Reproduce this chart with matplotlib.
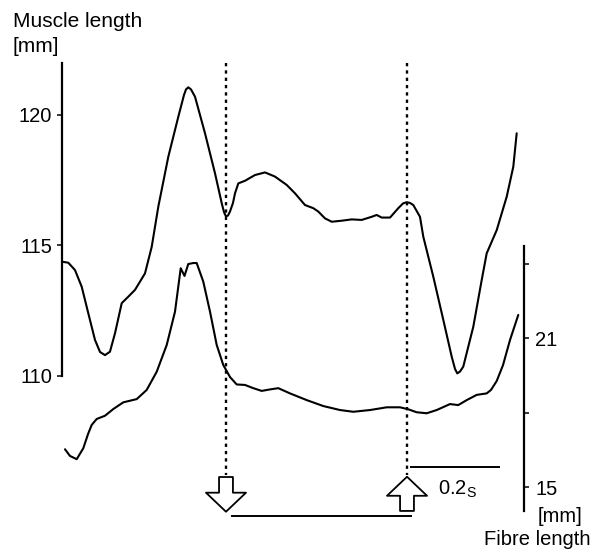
import matplotlib.pyplot as plt

plt.rcParams['font.family'] = ['Liberation Sans', 'DejaVu Sans']

# upper trace: muscle length [mm] vs time [s]
muscle_t = [0.000, 0.0143, 0.0295, 0.0448, 0.0598, 0.075, 0.0864, 0.0977, 0.109, 0.1205,
            0.1357, 0.1507, 0.1659, 0.1886, 0.2039, 0.2189, 0.2416, 0.2643, 0.2773, 0.2818,
            0.2870, 0.2932, 0.3023, 0.3250, 0.3477, 0.3630, 0.3682, 0.3727, 0.3773, 0.3818,
            0.3886, 0.3932, 0.4007, 0.4159, 0.4386, 0.4614, 0.4841, 0.5107, 0.5295, 0.5523,
            0.5711, 0.5825, 0.5977, 0.6130, 0.6357, 0.6584, 0.6811, 0.7039, 0.7152, 0.7266,
            0.7455, 0.7643, 0.7750, 0.7834, 0.7909, 0.7984, 0.8136, 0.8211, 0.8439, 0.8666,
            0.8857, 0.8932, 0.8984, 0.9045, 0.9120, 0.9348, 0.9539, 0.9652, 0.9880, 1.0107,
            1.0257, 1.0334]
muscle_len = [114.38, 114.34, 114.06, 113.42, 112.40, 111.38, 110.92, 110.80, 110.93, 111.64,
              112.79, 113.04, 113.30, 113.93, 114.95, 116.49, 118.40, 119.93, 120.77, 120.98,
              121.06, 120.98, 120.70, 119.30, 117.77, 116.62, 116.28, 116.11, 116.15, 116.30,
              116.63, 117.00, 117.38, 117.48, 117.70, 117.80, 117.64, 117.32, 117.00, 116.55,
              116.43, 116.30, 116.04, 115.91, 115.95, 116.00, 115.98, 116.10, 116.17, 116.07,
              116.07, 116.43, 116.61, 116.66, 116.63, 116.55, 116.10, 115.34, 113.80, 112.15,
              110.74, 110.27, 110.10, 110.17, 110.36, 111.89, 113.68, 114.70, 115.59, 116.87,
              118.02, 119.30]

# lower trace: fibre length [mm] vs time [s]
fibre_t = [0.0068, 0.0182, 0.0334, 0.0484, 0.0591, 0.0675, 0.0789, 0.0977, 0.1166, 0.1393,
           0.1698, 0.1925, 0.2152, 0.2380, 0.2568, 0.2698, 0.2784, 0.2870, 0.2984, 0.3061,
           0.3211, 0.3364, 0.3516, 0.3666, 0.3818, 0.3970, 0.4159, 0.4348, 0.4539, 0.4727,
           0.4916, 0.5182, 0.5561, 0.5939, 0.6318, 0.6620, 0.7000, 0.7380, 0.7682, 0.7870,
           0.8061, 0.8289, 0.8516, 0.8818, 0.9007, 0.9198, 0.9425, 0.9652, 0.9750, 0.9880,
           1.0023, 1.0182, 1.0370]
fibre_len = [16.52, 16.25, 16.12, 16.56, 17.13, 17.50, 17.74, 17.87, 18.14, 18.41,
             18.54, 18.91, 19.64, 20.72, 22.06, 23.81, 23.50, 23.98, 24.02, 24.02,
             23.27, 22.06, 20.72, 19.91, 19.43, 19.13, 19.11, 18.98, 18.87, 18.93,
             18.98, 18.77, 18.50, 18.26, 18.10, 18.03, 18.10, 18.21, 18.21, 18.13,
             18.01, 17.97, 18.10, 18.34, 18.30, 18.50, 18.71, 18.77, 18.91, 19.27,
             19.91, 20.92, 21.93]

muscle_ticks = [110, 115, 120]
fibre_ticks = [15, 18, 21, 24]
fibre_ticklabels = ['15', '', '21', '']
event_times = [0.3727, 0.7841]  # dotted markers
scale_bar = 0.2  # s

fig = plt.figure(figsize=(5.92, 5.54), dpi=100)
ax = fig.add_axes([62 / 592, 0, 462 / 592, 1])
ax.set_xlim(0, 1.05)
ax.set_ylim(103.18, 124.406)
ax2 = ax.twinx()
ax2.set_ylim(12.302, 34.613)

ax.plot(muscle_t, muscle_len, color='black', lw=1.5, clip_on=False,
        solid_joinstyle='round', solid_capstyle='round')
ax2.plot(fibre_t, fibre_len, color='black', lw=1.5, clip_on=False,
         solid_joinstyle='round', solid_capstyle='round')

for a in (ax, ax2):
    for s in ('top', 'bottom'):
        a.spines[s].set_visible(False)
    a.set_xticks([])
ax.spines['right'].set_visible(False)
ax2.spines['left'].set_visible(False)

ax.spines['left'].set_bounds(110, 122)
ax.spines['left'].set_linewidth(1.6)
ax.set_yticks(muscle_ticks)
ax.tick_params(axis='y', direction='out', length=3.6, width=1.1, pad=3.5, labelsize=14.5)

ax2.spines['right'].set_bounds(14.03, 24.71)
ax2.spines['right'].set_linewidth(1.6)
ax2.set_yticks(fibre_ticks)
ax2.set_yticklabels(fibre_ticklabels)
ax2.tick_params(axis='y', direction='out', length=3.6, width=1.1, pad=4.5, labelsize=14.5)

# dotted event lines
for t in event_times:
    ax.plot([t, t], [122.0, 106.2], color='black', lw=1.7,
            linestyle=(0, (1.4, 1.7)), clip_on=False)

# hollow arrows: down at first event, up at second
arrow_style = 'simple,head_length=13.7,head_width=28.8,tail_width=10'
ax.annotate('', xy=(event_times[0], 104.80), xytext=(event_times[0], 106.13),
            arrowprops=dict(arrowstyle=arrow_style, mutation_scale=1, fc='white',
                            ec='black', lw=1.3, shrinkA=0, shrinkB=0))
ax.annotate('', xy=(event_times[1], 106.14), xytext=(event_times[1], 104.83),
            arrowprops=dict(arrowstyle=arrow_style, mutation_scale=1, fc='white',
                            ec='black', lw=1.3, shrinkA=0, shrinkB=0))

# bar between arrows
ax.plot([0.387, 0.7925], [104.647, 104.647], color='black', lw=1.4, clip_on=False)

# time scale bar
ax.plot([0.7925, 0.7925 + scale_bar], [106.525, 106.525], color='black', lw=1.4, clip_on=False)
ax.text(0.8545, 105.44, '0.2$_\\mathregular{S}$', fontsize=14.5, va='baseline', ha='left')

# axis titles
fig.text(13 / 592, 1 - 26.7 / 554, 'Muscle length', fontsize=15, va='baseline', ha='left')
fig.text(13 / 592, 1 - 51.5 / 554, '[mm]', fontsize=15, va='baseline', ha='left')
fig.text(582 / 592, 1 - 522 / 554, '[mm]', fontsize=14.5, va='baseline', ha='right')
fig.text(590 / 592, 1 - 545 / 554, 'Fibre length', fontsize=14.5, va='baseline', ha='right')

fig.savefig('out.png', dpi=100)
